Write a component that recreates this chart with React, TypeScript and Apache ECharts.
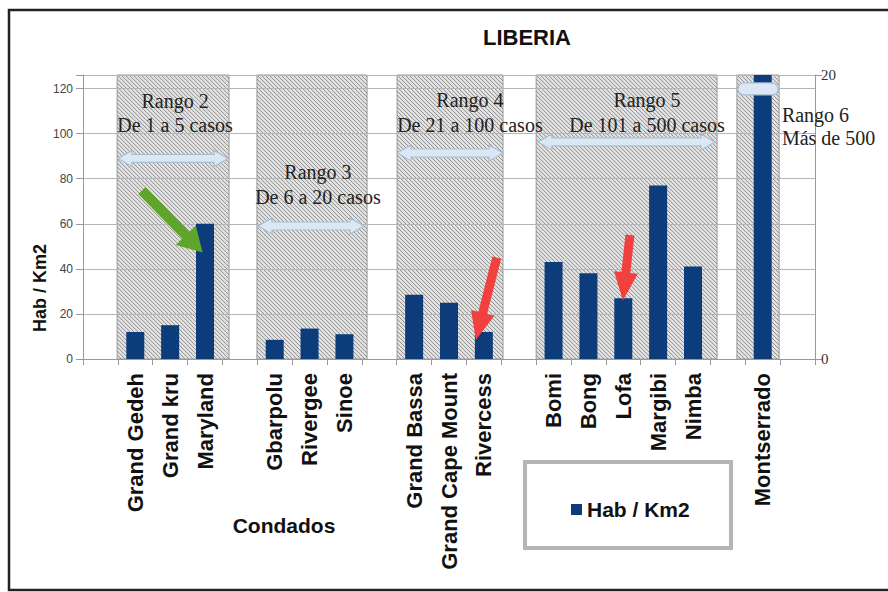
import React, { useEffect, useRef } from "react";
import * as echarts from "echarts";

// ---------- data ----------
const categories = [
  "", "Grand Gedeh", "Grand kru", "Maryland",
  " ", "Gbarpolu", "Rivergee", "Sinoe",
  "  ", "Grand Bassa", "Grand Cape Mount", "Rivercess",
  "   ", "Bomi", "Bong", "Lofa", "Margibi", "Nimba",
  "    ", "Montserrado", "     ",
];
const habKm2: (number | null)[] = [
  null, 12, 15, 60,
  null, 8.5, 13.5, 11,
  null, 28.5, 25, 12,
  null, 43, 38, 27, 77, 41,
  null, 600, null,
];
const leftAxisMax = 126;
const leftAxisStep = 20;
const rightAxisMax = 20;
const rangeTitles = ["Rango 2", "Rango 3", "Rango 4", "Rango 5", "Rango 6"];
const rangeSubtitles = ["De 1 a 5 casos", "De 6 a 20 casos", "De 21 a 100 casos", "De 101 a 500 casos", "Más de 500"];
const seriesName = "Hab / Km2";
const xAxisTitle = "Condados";
const chartTitle = "LIBERIA";

// ---------- annotation layout (category-index units / axis values) ----------
const hatchSpan = [[0.48, 3.69], [4.49, 7.65], [8.51, 11.55], [12.5, 17.69], [18.26, 19.47]];
const dblArrowSpan = [[0.5, 3.66], [4.52, 7.56], [8.51, 11.55], [12.55, 17.63], [18.29, 19.44]];
const dblArrowVal = [89, 59, 91.4, 96.3, 119.8];
const textIdx = [2.14, 6.24, 10.6, 15.68, 19.55];
const textVal = [[114.5, 103.8], [83, 72], [115, 103.8], [115, 103.8], [108.3, 98]];
const pointers = [
  { from: [1.19, 74.8], to: [2.93, 47.3], color: "#5ea62a", w: 5, hw: 14, hl: 24 },
  { from: [11.37, 45], to: [10.77, 8.4], color: "#f2403e", w: 4.5, hw: 12, hl: 28 },
  { from: [15.19, 55], to: [14.99, 26], color: "#f2403e", w: 4.5, hw: 12, hl: 28 },
];

export default function App() {
  const ref = useRef<HTMLDivElement>(null);
  useEffect(() => {
    const chart = echarts.init(ref.current!, null, { renderer: "svg" });
    chart.setOption({
      animation: false,
      backgroundColor: "#ffffff",
      title: {
        text: chartTitle,
        left: 478,
        top: 21,
        textStyle: { fontFamily: "Liberation Sans", fontSize: 22, fontWeight: "bold", color: "#111" },
      },
      legend: {
        data: [seriesName],
        left: 566,
        top: 494,
        icon: "rect",
        itemWidth: 11,
        itemHeight: 11,
        itemGap: 6,
        textStyle: { fontFamily: "Liberation Sans", fontSize: 21, fontWeight: "bold", color: "#111" },
      },
      grid: { left: 83, right: 73, top: 75, bottom: 233 },
      xAxis: {
        type: "category",
        data: categories,
        axisLine: { lineStyle: { color: "#999", width: 1 } },
        axisTick: { show: true, interval: 0, length: 6, lineStyle: { color: "#999" } },
        axisLabel: {
          interval: 0,
          rotate: 90,
          margin: 14,
          fontFamily: "Liberation Sans",
          fontSize: 22,
          fontWeight: "bold",
          color: "#111",
        },
      },
      yAxis: [
        {
          type: "value",
          min: 0,
          max: leftAxisMax,
          interval: leftAxisStep,
          axisLine: { show: true, lineStyle: { color: "#999" } },
          axisTick: { show: true, length: 7, lineStyle: { color: "#999" } },
          splitLine: { lineStyle: { color: "#b5b5b5" } },
          axisLabel: {
            fontFamily: "Liberation Sans",
            fontSize: 12,
            color: "#444",
            margin: 10,
            formatter: (v: number) => (v % leftAxisStep === 0 ? String(v) : ""),
          },
        },
        {
          type: "value",
          position: "right",
          min: 0,
          max: rightAxisMax,
          interval: rightAxisMax,
          axisLine: { show: true, lineStyle: { color: "#999" } },
          axisTick: { show: true, length: 7, lineStyle: { color: "#999" } },
          splitLine: { show: false },
          axisLabel: { fontFamily: "Liberation Serif", fontSize: 15, color: "#333", margin: 6 },
        },
      ],
      series: [
        {
          name: seriesName,
          type: "bar",
          data: habKm2.map((v) => (v == null ? "-" : v)),
          barWidth: 18,
          clip: true,
          itemStyle: { color: "#0d3c7b" },
          z: 3,
        },
      ],
    });

    const x0 = chart.convertToPixel({ xAxisIndex: 0 }, 0) as number;
    const x1 = chart.convertToPixel({ xAxisIndex: 0 }, 1) as number;
    const xp = (i: number) => x0 + (x1 - x0) * i;
    const yp = (v: number) => chart.convertToPixel({ yAxisIndex: 0 }, v) as number;
    const els: any[] = [];

    // hatched range backgrounds
    const yTop = yp(leftAxisMax);
    const yBot = yp(0);
    hatchSpan.forEach(([a, b]) => {
      const rx0 = xp(a);
      const rx1 = xp(b);
      els.push({
        type: "rect",
        z: -1,
        shape: { x: rx0, y: yTop, width: rx1 - rx0, height: yBot - yTop },
        style: { fill: "#e3e3e3", stroke: "#9a9a9a", lineWidth: 1 },
      });
      const step = 4;
      for (let c = rx0 - yBot; c <= rx1 - yTop; c += step) {
        const ya = Math.max(yTop, rx0 - c);
        const yb = Math.min(yBot, rx1 - c);
        if (yb <= ya) continue;
        els.push({
          type: "line",
          z: -1,
          silent: true,
          shape: { x1: c + ya, y1: ya, x2: c + yb, y2: yb },
          style: { stroke: "#8e8e8e", lineWidth: 1 },
        });
      }
    });

    // light blue double arrows
    dblArrowSpan.forEach(([a, b], k) => {
      const ax0 = xp(a);
      const ax1 = xp(b);
      const y = yp(dblArrowVal[k]);
      if (k === 4) {
        els.push({
          type: "rect",
          z: 10,
          shape: { x: ax0, y: y - 6, width: ax1 - ax0, height: 12, r: 6 },
          style: { fill: "#dbe8f4", stroke: "#a8bfd3", lineWidth: 1.2 },
        });
        return;
      }
      const h = 14, hh = 8, sh = 4;
      els.push({
        type: "polygon",
        z: 10,
        shape: {
          points: [
            [ax0, y], [ax0 + h, y - hh], [ax0 + h, y - sh], [ax1 - h, y - sh], [ax1 - h, y - hh],
            [ax1, y], [ax1 - h, y + hh], [ax1 - h, y + sh], [ax0 + h, y + sh], [ax0 + h, y + hh],
          ],
        },
        style: { fill: "#dbe8f4", stroke: "#a8bfd3", lineWidth: 1.2 },
      });
    });

    // range texts
    rangeTitles.forEach((t, k) => {
      const align = k === 4 ? "left" : "center";
      [t, rangeSubtitles[k]].forEach((s, j) => {
        els.push({
          type: "text",
          z: 11,
          x: xp(textIdx[k]),
          y: yp(textVal[k][j]),
          style: {
            text: s,
            fontFamily: "Liberation Serif",
            fontSize: 20,
            fill: "#222",
            align,
            verticalAlign: "middle",
          },
        });
      });
    });

    // pointer arrows
    pointers.forEach((p) => {
      const sx = xp(p.from[0]), sy = yp(p.from[1]);
      const tx = xp(p.to[0]), ty = yp(p.to[1]);
      const len = Math.hypot(tx - sx, ty - sy);
      const dx = (tx - sx) / len, dy = (ty - sy) / len;
      const nx = -dy, ny = dx;
      const bx = tx - dx * p.hl, by = ty - dy * p.hl;
      els.push({
        type: "polygon",
        z: 12,
        shape: {
          points: [
            [sx + nx * p.w, sy + ny * p.w],
            [bx + nx * p.w, by + ny * p.w],
            [bx + nx * p.hw, by + ny * p.hw],
            [tx, ty],
            [bx - nx * p.hw, by - ny * p.hw],
            [bx - nx * p.w, by - ny * p.w],
            [sx - nx * p.w, sy - ny * p.w],
          ],
        },
        style: { fill: p.color },
      });
    });

    // y axis name
    els.push({
      type: "text",
      z: 5,
      x: 40,
      y: 288,
      rotation: Math.PI / 2,
      style: {
        text: seriesName,
        fontFamily: "Liberation Sans",
        fontSize: 18,
        fontWeight: "bold",
        fill: "#111",
        align: "center",
        verticalAlign: "middle",
      },
    });
    // x axis name
    els.push({
      type: "text",
      z: 5,
      x: 284,
      y: 525,
      style: {
        text: xAxisTitle,
        fontFamily: "Liberation Sans",
        fontSize: 21,
        fontWeight: "bold",
        fill: "#111",
        align: "center",
        verticalAlign: "middle",
      },
    });
    // legend frame
    els.push({
      type: "rect",
      z: 1,
      shape: { x: 525, y: 462, width: 206, height: 86 },
      style: { fill: "#fff", stroke: "#b5b5b5", lineWidth: 4 },
    });
    // outer frame
    els.push({
      type: "rect",
      z: 20,
      shape: { x: 9, y: 10, width: 890, height: 580 },
      style: { fill: "none", stroke: "#222", lineWidth: 2.5 },
    });

    chart.setOption({ graphic: { elements: els } });
    return () => chart.dispose();
  }, []);
  return <div ref={ref} style={{ position: "absolute", left: 0, top: 0, width: 888, height: 592 }} />;
}
